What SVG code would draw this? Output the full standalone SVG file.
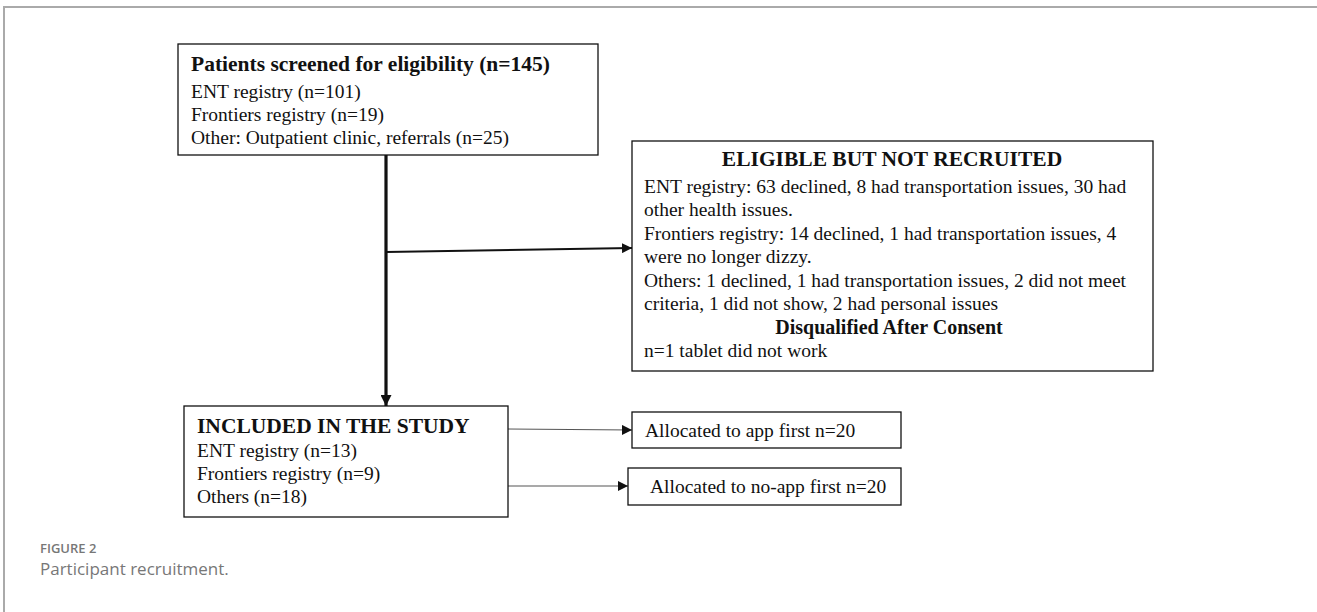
<svg xmlns="http://www.w3.org/2000/svg" width="1317" height="612" viewBox="0 0 1317 612">
<style>
.box{fill:#fff;stroke:#111;stroke-width:1.3}
.t{font-family:"Liberation Serif","Times New Roman",serif;font-size:19.5px;fill:#111}
.b{font-family:"Liberation Serif","Times New Roman",serif;font-size:21.5px;font-weight:bold;fill:#111}
.cap1{font-family:"Open Sans","Noto Sans",sans-serif;font-size:13px;font-weight:600;fill:#777}
.cap2{font-family:"Open Sans","Noto Sans",sans-serif;font-size:17px;fill:#777}
</style>
<defs>
<marker id="ah" viewBox="0 0 10 10" refX="10" refY="5" markerWidth="10" markerHeight="10" markerUnits="userSpaceOnUse" orient="auto"><path d="M0,0 L10,5 L0,10 z" fill="#111"/></marker>
<marker id="ahBig" viewBox="0 0 10 10" refX="10" refY="5" markerWidth="11" markerHeight="11" markerUnits="userSpaceOnUse" orient="auto"><path d="M0,0 L10,5 L0,10 z" fill="#111"/></marker>
</defs>
<rect width="1317" height="612" fill="#fff"/>
<path d="M4,612 V7 H1317" fill="none" stroke="#aaa" stroke-width="2"/>
<g id="connectors">
<line x1="386" y1="155" x2="386" y2="406" stroke="#111" stroke-width="3.2" marker-end="url(#ahBig)"/>
<line x1="386" y1="252" x2="632" y2="248" stroke="#111" stroke-width="2" marker-end="url(#ah)"/>
<line x1="508" y1="429" x2="632" y2="430" stroke="#555" stroke-width="1.2" marker-end="url(#ah)"/>
<line x1="507" y1="486" x2="628" y2="486" stroke="#555" stroke-width="1.2" marker-end="url(#ah)"/>
</g>
<g id="screened">
<rect class="box" x="178" y="44" width="420" height="111"/>
<text class="b" x="191" y="71">Patients screened for eligibility (n=145)</text>
<text class="t" x="191" y="98">ENT registry (n=101)</text>
<text class="t" x="191" y="121">Frontiers registry (n=19)</text>
<text class="t" x="191" y="144">Other: Outpatient clinic, referrals (n=25)</text>
</g>
<g id="eligible">
<rect class="box" x="632" y="141" width="521" height="230"/>
<text class="b" x="892" y="166" text-anchor="middle">ELIGIBLE BUT NOT RECRUITED</text>
<text class="t" x="644" y="193">ENT registry: 63 declined, 8 had transportation issues, 30 had</text>
<text class="t" x="644" y="216">other health issues.</text>
<text class="t" x="644" y="240">Frontiers registry: 14 declined, 1 had transportation issues, 4</text>
<text class="t" x="644" y="263">were no longer dizzy.</text>
<text class="t" x="644" y="287">Others: 1 declined, 1 had transportation issues, 2 did not meet</text>
<text class="t" x="644" y="310">criteria, 1 did not show, 2 had personal issues</text>
<text class="b" x="889" y="334" text-anchor="middle" style="font-size:20px">Disqualified After Consent</text>
<text class="t" x="644" y="357">n=1 tablet did not work</text>
</g>
<g id="included">
<rect class="box" x="184" y="406" width="324" height="111"/>
<text class="b" x="197" y="433">INCLUDED IN THE STUDY</text>
<text class="t" x="197" y="457">ENT registry (n=13)</text>
<text class="t" x="197" y="480">Frontiers registry (n=9)</text>
<text class="t" x="197" y="503">Others (n=18)</text>
</g>
<g id="app">
<rect class="box" x="632" y="412" width="269" height="36"/>
<text class="t" x="645" y="437">Allocated to app first n=20</text>
</g>
<g id="noapp">
<rect class="box" x="628" y="468" width="273" height="37"/>
<text class="t" x="650" y="493">Allocated to no-app first n=20</text>
</g>
<text class="cap1" x="40" y="553">FIGURE 2</text>
<text class="cap2" x="40" y="575">Participant recruitment.</text>
</svg>
